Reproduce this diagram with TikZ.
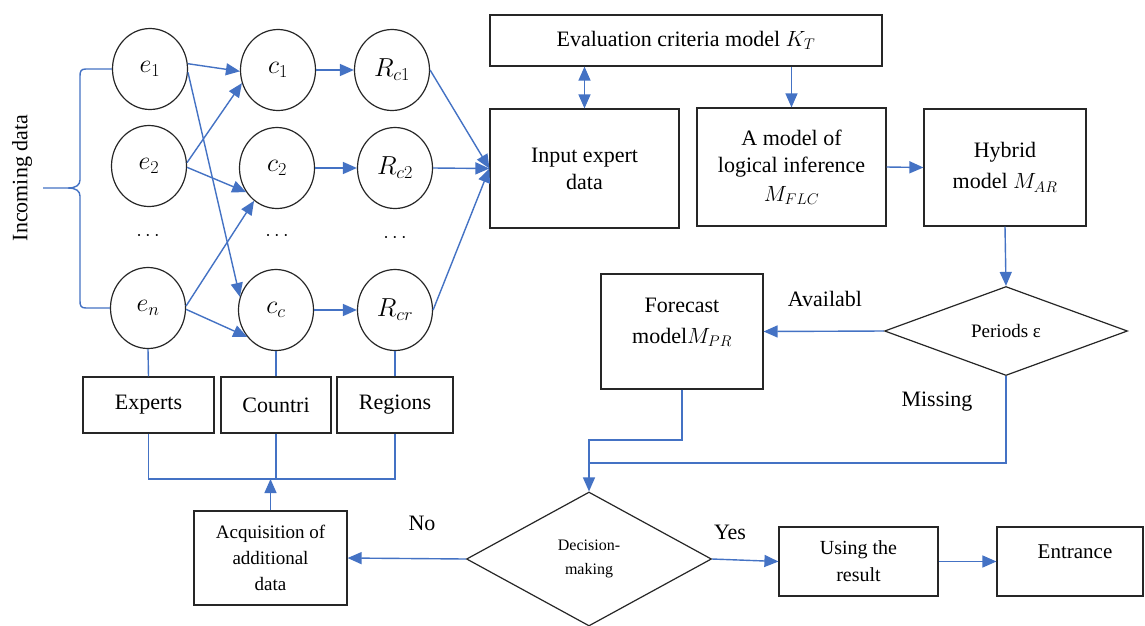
\RequirePackage{fix-cm}
\documentclass[tikz,border=0pt]{standalone}
\usepackage{fontspec}
\setmainfont{Liberation Serif}
\usetikzlibrary{arrows.meta,shapes.geometric,calc}
\definecolor{flow}{HTML}{4472C4}
\definecolor{edge}{HTML}{262626}

\begin{document}
\begin{tikzpicture}[x=1pt,y=-1pt,
  every node/.style={font=\fontsize{22}{27}\selectfont, text=black},
  box/.style={draw=edge, line width=1.2pt, rectangle, inner sep=2pt, align=center},
  bubble/.style={draw=edge, line width=1.2pt, ellipse, minimum width=75pt, minimum height=81pt, inner sep=0pt, font=\fontsize{26}{28}\selectfont},
  choice/.style={draw=edge, line width=1.2pt, diamond, inner sep=0pt, align=center},
  link/.style={draw=flow, line width=1.4pt},
  arr/.style={link, -{Triangle[length=14pt,width=12pt]}},
  darr/.style={link, {Triangle[length=14pt,width=12pt]}-{Triangle[length=14pt,width=12pt]}},
  dotsnode/.style={font=\fontsize{20}{24}\selectfont},
]
\fill[white] (0,0) rectangle (1145,625);
\useasboundingbox (0,0) rectangle (1145,625);

% experts, countries and regions
\node[bubble] (e1) at (150,69) {$e_1$};
\node[bubble] (e2) at (149,166) {$e_2$};
\node[bubble] (en) at (148,308) {$e_n$};
\node[bubble] (c1) at (278,70) {$c_1$};
\node[bubble] (c2) at (277,168) {$c_2$};
\node[bubble] (cc) at (276,310) {$c_c$};
\node[bubble] (r1) at (392,70) {$R_{c1}$};
\node[bubble] (r2) at (395,168) {$R_{c2}$};
\node[bubble] (rr) at (395,310) {$R_{cr}$};
\node[dotsnode] (d1) at (148,236) {$\cdots$};
\node[dotsnode] (d2) at (277,236) {$\cdots$};
\node[dotsnode] (d3) at (395,238) {$\cdots$};

% incoming data brace
\node[rotate=90] (inc) at (22,178) {Incoming data};
\coordinate (tip) at (43,188);
\draw[link] (e1.west) -- (86,69) .. controls (81,69) and (80,71) .. (80,76) -- (80,180) .. controls (80,185) and (76,188) .. (68,188) -- (tip);
\draw[link] (en.west) -- (86,308) .. controls (81,308) and (80,306) .. (80,301) -- (80,196) .. controls (80,191) and (76,188) .. (68,188);

% expert to country links
\draw[arr] (e1.8) -- (c1.182);
\draw[arr] (e1.-5) -- (cc.160);
\draw[arr] (e2.5) -- (c1.200);
\draw[arr] (e2.-2) -- (c2.218);
\draw[arr] (en.3) -- (c2.235);
\draw[arr] (en.-2) -- (cc.223);
\draw[arr] (c1.east) -- (r1.west);
\draw[arr] (c2.east) -- (r2.west);
\draw[arr] (cc.east) -- (rr.west);

% category boxes
\node[box, minimum width=131pt, minimum height=56pt] (exp) at (148.5,405) {Experts};
\node[box, minimum width=110pt, minimum height=56pt] (cou) at (276,405) {Countri};
\node[box, minimum width=116pt, minimum height=56pt] (reg) at (395,405) {Regions};
\draw[link] (en.south) -- (exp.north);
\draw[link] (cc.south) -- (cou.north);
\draw[link] (rr.south) -- (reg.north);

% model chain
\node[box, minimum width=392pt, minimum height=51pt] (ev) at (686,40.5) {Evaluation criteria model $K_T$};
\node[box, minimum width=189pt, minimum height=119pt] (inp) at (584.5,168.5) {Input expert\\data};
\node[box, minimum width=189pt, minimum height=118pt] (log) at (791.5,167) {A model of\\logical inference\\[2pt]$M_{FLC}$};
\node[box, minimum width=162pt, minimum height=117pt] (hyb) at (1005,167.5) {Hybrid\\[4pt]model $M_{AR}$};
\node[choice, minimum width=243pt, minimum height=89pt, font=\fontsize{19}{22}\selectfont] (per) at (1006,331) {Periods ε};
\node[box, minimum width=162pt, minimum height=115pt] (fc) at (682,331.5) {};
\node[align=center] (fct) at (682,322) {Forecast\\[4pt]model$M_{PR}$};

\draw[arr] (r1.east) -- (inp.west);
\draw[arr] (r2.east) -- (inp.west);
\draw[arr] (rr.east) -- (inp.west);
\draw[darr] (inp.north) -- (inp.north |- ev.south);
\draw[arr] (log.north |- ev.south) -- (log.north);
\draw[arr] (log.east) -- (hyb.west);
\draw[arr] (hyb.south) -- (per.north);
\draw[arr] (per.west) -- (fc.east);

\node (avl) at (825,299) {Availabl};
\node (mis) at (937,402) {Missing};

% decision stage
\node[choice, minimum width=245pt, minimum height=134pt, font=\fontsize{16}{24}\selectfont] (dec) at (589,559) {Decision-\\making};
\node[box, minimum width=159pt, minimum height=69pt, font=\fontsize{20}{27}\selectfont] (use) at (858.5,561.5) {Using the\\result};
\node[box, minimum width=146pt, minimum height=69pt] (ent) at (1070,561.5) {};
\node[font=\fontsize{21}{26}\selectfont] (entt) at (1075,552) {Entrance};
\node[box, minimum width=153pt, minimum height=94pt, font=\fontsize{19}{26}\selectfont] (acq) at (270.5,558) {Acquisition of\\additional\\data};

\draw[arr] (fc.south) -- (fc.south |- 0,440) -- (dec.north |- 0,440) -- (dec.north);
\draw[link] (per.south) -- (per.south |- 0,463) -- (dec.north |- 0,463);
\draw[arr] (dec.west) -- (acq.east);
\draw[arr] (dec.east) -- (use.west);
\draw[arr] (use.east) -- (ent.west);

\coordinate (merge) at (272,479);
\draw[link] (exp.south) -- (exp.south |- merge) -- (reg.south |- merge) -- (reg.south);
\draw[link] (cou.south) -- (cou.south |- merge);
\draw[arr] (acq.north) -- (acq.north |- merge);

\node (no) at (422,523) {No};
\node (yes) at (730,532) {Yes};
\end{tikzpicture}
\end{document}
